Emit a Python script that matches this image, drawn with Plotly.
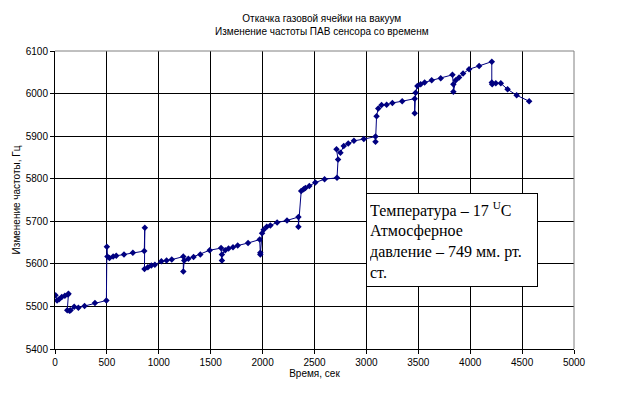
import plotly.graph_objects as go

time_s = [5, 20, 40, 65, 95, 125, 130, 118, 140, 150, 185, 225, 285, 385, 495,
          500, 505, 525, 560, 590, 665, 750, 860, 865, 862, 895, 928, 962, 1025, 1075,
          1125, 1236, 1236, 1245, 1285, 1335, 1400, 1490, 1600, 1608, 1608, 1640, 1672,
          1715, 1760, 1860, 1972, 1978, 1978, 1995, 2010, 2040, 2075, 2140, 2235, 2345,
          2345, 2372, 2395, 2412, 2450, 2508, 2597, 2717, 2727, 2712, 2750, 2782, 2825,
          2880, 2975, 3088, 3088, 3098, 3114, 3146, 3195, 3250, 3345, 3465, 3465, 3474,
          3491, 3523, 3561, 3629, 3716, 3829, 3838, 3838, 3861, 3893, 3931, 3989, 4086,
          4208, 4208, 4212, 4247, 4295, 4360, 4447, 4568]
freq_hz = [5526, 5514, 5517, 5522, 5525, 5528, 5530, 5491, 5490, 5491, 5499, 5497, 5501, 5508, 5514,
           5640, 5617, 5614, 5617, 5619, 5622, 5626, 5630, 5685, 5588, 5592, 5596, 5598, 5606, 5608,
           5610, 5617, 5582, 5608, 5612, 5616, 5622, 5632, 5637, 5608, 5622, 5632, 5636,
           5639, 5643, 5649, 5657, 5626, 5622, 5672, 5680, 5687, 5690, 5697, 5702, 5710,
           5687, 5771, 5775, 5778, 5783, 5791, 5799, 5802, 5845, 5869, 5861, 5877, 5883,
           5889, 5893, 5899, 5887, 5947, 5965, 5973, 5974, 5978, 5982, 5988, 5954, 6002,
           6018, 6022, 6026, 6031, 6036, 6044, 6022, 6004, 6031, 6038, 6047, 6057, 6065,
           6075, 6026, 6022, 6024, 6024, 6010, 5996, 5982]

title_lines = ["Откачка газовой ячейки на вакуум", "Изменение частоты ПАВ сенсора со временм"]
x_title = "Время, сек"
y_title = "Изменение частоты, Гц"
note_lines = ["Температура – 17 <sup>U</sup>C", "Атмосферное", "давление – 749 мм. рт.", "ст."]

navy = "#000080"
sans = "Arial, Liberation Sans, sans-serif"
serif = "Times New Roman, Liberation Serif, serif"

fig = go.Figure()
fig.add_trace(go.Scatter(
    x=time_s, y=freq_hz, mode="lines+markers",
    line=dict(color=navy, width=1),
    marker=dict(symbol="diamond", size=5, color=navy),
    showlegend=False, hoverinfo="x+y"))

fig.update_layout(
    width=644, height=394,
    margin=dict(l=55, r=70, t=51, b=45),
    paper_bgcolor="white", plot_bgcolor="white",
    font=dict(family=sans, size=10, color="black"),
    xaxis=dict(range=[0, 5000], dtick=500, showgrid=True, gridcolor="black", gridwidth=1,
               showline=True, linecolor="black", linewidth=1, mirror=False,
               ticks="outside", ticklen=4, tickcolor="black", zeroline=False,
               tickfont=dict(family=sans, size=10, color="black"),
               title=dict(text=x_title, font=dict(family=sans, size=10), standoff=1)),
    yaxis=dict(range=[5400, 6100], dtick=100, showgrid=True, gridcolor="black", gridwidth=1,
               showline=True, linecolor="black", linewidth=1,
               ticks="outside", ticklen=4, tickcolor="black", zeroline=False,
               tickfont=dict(family=sans, size=10, color="black"),
               title=dict(text=y_title, font=dict(family=sans, size=10), standoff=3)),
    shapes=[
        dict(type="line", xref="paper", yref="paper", x0=0, x1=1, y0=1, y1=1,
             line=dict(color="gray", width=1)),
        dict(type="line", xref="paper", yref="paper", x0=1, x1=1, y0=0, y1=1,
             line=dict(color="gray", width=1)),
    ],
    annotations=[
        dict(text="<br>".join(title_lines), xref="paper", yref="paper",
             x=0.515, y=1.0, yshift=40, xanchor="center", yanchor="top", showarrow=False,
             font=dict(family=sans, size=10, color="black")),
        dict(text="<br>".join(note_lines), xref="paper", yref="paper",
             x=0.765, y=0.365, xanchor="center", yanchor="middle", showarrow=False,
             align="left", width=164, height=86, borderpad=3,
             bordercolor="black", borderwidth=1, bgcolor="white",
             font=dict(family=serif, size=16, color="black")),
    ],
)

fig.write_html("out.html")
